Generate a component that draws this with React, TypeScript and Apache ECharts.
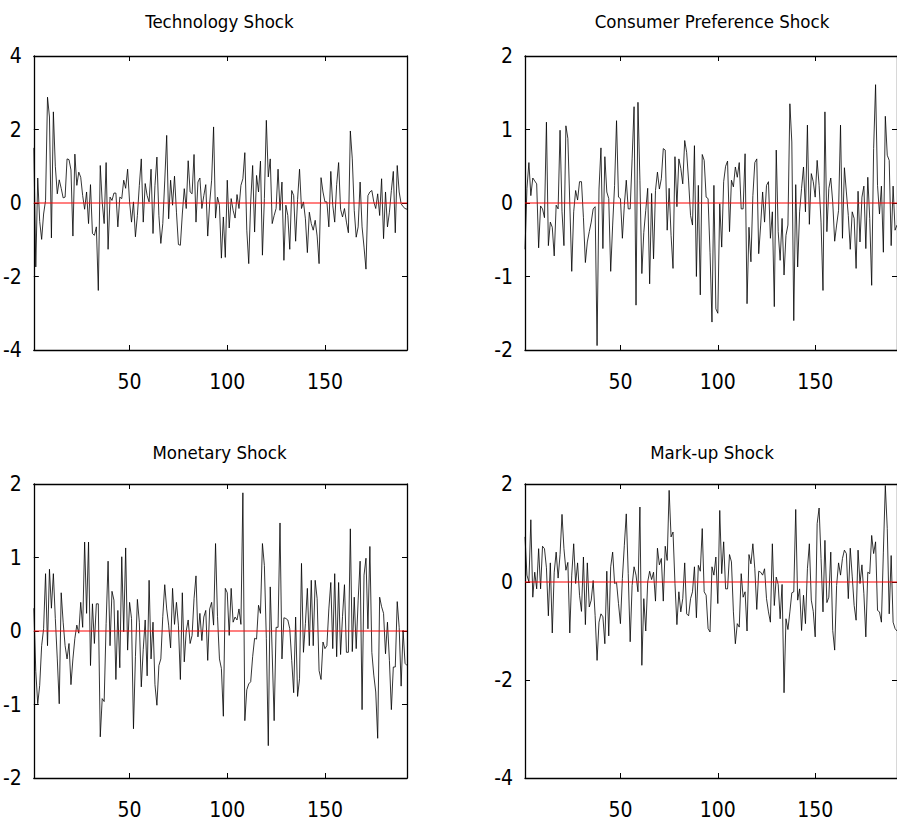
import React, { useEffect, useRef } from "react";
import * as echarts from "echarts";

const titles = ["Technology Shock", "Consumer Preference Shock", "Monetary Shock", "Mark-up Shock"];
const xTicks = [50, 100, 150];
const yMins = [-4, -2, -2, -4];
const yMaxs = [4, 2, 2, 2];
const yIntervals = [2, 1, 1, 2];
const zeroLevel = 0;

const technology = [
  1.5, -1.74, 0.68, -0.5, -0.99, -0.3, 0.07, 2.88, 2.34, -0.95,
  2.48, 1.0, 0.25, 0.63, 0.4, 0.14, 0.16, 1.2, 1.18, 0.9,
  -0.9, 1.33, 0.48, 0.84, 0.7, 0.2, -0.17, 0.3, -0.56, 0.5,
  -0.83, -0.88, -0.65, -2.38, 1.02, 0.02, -0.56, 1.1, -1.26, 0.16,
  0.07, 0.27, 0.27, -0.65, 0.16, 0.12, 0.62, 0.4, 0.92, 0.03,
  -0.52, 0.03, -0.92, -0.34, 0.48, 1.2, -0.52, 0.53, 0.2, 0.03,
  0.92, -0.83, 0.48, 1.25, -0.34, -1.1, -0.56, 0.6, 1.84, -0.43,
  0.62, -0.06, 0.73, -0.25, -1.13, -1.15, -0.3, 0.39, -0.15, 1.15,
  0.3, 0.25, 1.32, -0.52, 0.57, 0.68, -0.15, 0.2, 0.5, -0.9,
  0.0, 0.62, 2.07, -0.41, 0.16, -0.06, -1.5, -0.38, -1.48, 0.62,
  -0.68, 0.12, -0.2, -0.41, 0.23, -0.15, 0.48, 0.66, 1.37, -0.74,
  -1.65, 0.03, 1.02, -0.79, 0.75, 0.3, 1.14, -1.42, 0.12, 2.25,
  0.71, 1.2, -0.56, -0.34, -0.15, 0.92, -0.2, 0.57, -1.56, -0.06,
  -0.34, -1.26, 0.34, 0.2, -1.04, 0.1, 0.92, -0.15, 0.03, -0.43,
  -1.35, -0.25, -0.56, -0.74, -0.47, -0.9, -1.65, 0.69, 0.3, 0.03,
  0.03, -0.65, 0.86, -0.06, -0.52, 0.5, 1.1, -0.17, -0.38, -0.15,
  -0.52, -0.81, 1.96, 1.2, -0.2, -0.93, -0.65, 0.57, -0.65, -1.2,
  -1.8, 0.2, 0.3, 0.34, 0.03, -0.15, 0.25, -0.34, 0.66, -0.97,
  0.3, -0.65, -0.25, 0.34, 0.86, -0.81, 1.02, 0.3, -0.02, -0.1,
  -0.15, -0.17,
];

const consumer = [
  -0.63, 0.2, 0.55, 0.1, 0.34, 0.3, 0.26, -0.61, -0.04, -0.08,
  -0.2, 1.1, -0.58, -0.26, -0.33, -0.72, -0.03, -0.08, 0.99, -0.12,
  -0.58, 1.05, 0.88, 0.0, -0.93, -0.12, 0.17, 0.04, 0.29, 0.29,
  -0.2, -0.81, -0.53, -0.39, -0.26, -0.08, -0.05, -1.94, 0.19, 0.75,
  -0.62, 0.63, 0.15, 0.06, -0.93, -0.3, 0.24, 1.12, 0.08, 0.06,
  -0.48, -0.03, 0.31, -0.08, -0.08, 0.6, 1.31, -1.39, 1.37, 0.31,
  -0.96, -0.4, -0.1, 0.2, -1.1, 0.13, -0.76, 0.17, 0.42, 0.19,
  0.33, 0.74, 0.72, -0.37, 0.2, -0.44, -0.89, 0.63, -0.05, 0.6,
  0.47, 0.26, 0.85, 0.69, 0.3, -0.17, -0.3, 0.78, -1.0, 0.24,
  -1.25, 0.66, 0.58, 0.08, 0.06, -0.67, -1.62, 0.24, -1.44, -1.5,
  -0.01, -0.6, 0.29, 0.5, 0.57, -0.39, 0.31, 0.22, 0.49, 0.35,
  0.55, -0.08, -0.08, 0.67, -1.37, -0.33, -0.8, 0.1, 0.55, 0.6,
  -0.69, -0.3, 0.15, -0.26, 0.24, 0.29, -0.48, -0.12, -1.41, 0.72,
  -0.39, -0.78, -0.21, -0.98, -0.44, -0.3, 1.35, 0.83, -1.6, 0.25,
  -0.87, -0.12, 0.2, 0.49, -0.12, 1.06, -0.29, 0.4, 0.29, 0.08,
  0.58, 0.24, -0.26, -1.19, 1.24, -0.39, 0.2, 0.34, 0.01, -0.52,
  -0.3, -0.1, 1.06, -0.48, 0.48, 0.15, -0.17, -0.63, -0.12, -0.21,
  -0.89, 0.16, -0.53, 0.08, 0.23, -0.62, 0.35, -0.21, -1.12, 0.74,
  1.61, 0.24, -0.15, 0.23, -0.67, 1.18, 0.65, 0.58, -0.58, 0.23,
  -0.37, -0.3,
];

const monetary = [
  0.31, -0.55, -0.99, -0.74, -0.2, 0.03, 0.78, -0.2, 0.84, 0.31,
  0.78, 0.17, -0.38, -0.99, 0.52, 0.12, -0.2, -0.38, -0.17, -0.73,
  -0.38, -0.1, 0.08, -0.03, 0.39, 0.05, 1.21, 0.24, 1.21, -0.47,
  0.37, -0.17, 0.37, 0.37, -1.44, -0.92, -0.96, 0.1, 0.95, -0.2,
  0.54, 0.42, -0.66, 0.28, -0.5, 1.01, -0.01, 1.13, -0.26, 0.39,
  0.17, -1.33, -0.35, 0.43, 0.12, -0.76, -0.25, 0.15, -0.61, 0.69,
  -0.38, 0.12, -0.73, -1.01, -0.47, -0.38, 0.2, 0.63, 0.3, 0.08,
  -0.23, 0.58, 0.09, 0.39, 0.08, -0.66, 0.52, -0.42, 0.0, 0.15,
  -0.17, -0.06, 0.44, 0.75, -0.08, 0.24, -0.13, 0.19, 0.28, -0.4,
  0.3, 0.39, 0.08, 1.19, 0.2, -0.38, -0.51, -1.16, 0.58, 0.52,
  -0.06, 0.58, 0.12, 0.19, 0.15, 0.3, 0.09, 1.88, -1.22, -0.8,
  -0.72, -0.69, -0.35, -0.1, -0.11, 0.35, 0.24, 1.19, 0.89, -0.1,
  -1.56, 0.6, -0.3, -1.22, 0.05, 0.05, 1.47, -0.38, 0.18, 0.17,
  0.15, 0.03, -0.4, -0.84, 0.19, -0.89, -0.65, 0.92, -0.29, 0.1,
  0.58, -0.2, 0.69, -0.2, 0.69, 0.44, -0.54, -0.66, -0.15, -0.24,
  -0.2, 0.3, 0.66, -0.24, 0.78, -0.35, 0.66, -0.32, 0.2, 0.63,
  -0.29, -0.29, 1.39, -0.28, 0.46, -0.24, 0.42, 0.95, -1.07, 0.76,
  0.99, 0.03, 1.15, -0.29, -0.6, -0.83, -1.46, 0.46, 0.33, 0.24,
  -0.31, 0.12, -0.4, -1.07, -0.49, -0.49, 0.4, 0.05, -0.75, 0.01,
  -0.44, -0.47,
];

const markup = [
  0.92, 0.14, 0.0, 1.27, -0.31, 0.2, -0.14, 0.68, -0.14, 0.73,
  0.68, 0.29, -0.69, 0.39, -1.04, 0.2, 0.61, 0.08, 0.56, 1.38,
  0.68, 0.24, 0.4, -1.04, 0.14, 0.78, -0.03, 0.39, -0.27, -0.6,
  0.51, -0.87, 0.39, -0.51, -0.37, 0.03, -0.68, -1.6, -0.82, -0.65,
  -0.71, -1.26, 0.22, -1.1, 0.31, 0.61, -0.03, -0.01, -0.44, -0.85,
  0.07, 0.75, 1.39, 0.17, -1.22, -0.07, 0.31, 0.14, -0.2, 1.53,
  -1.7, -0.34, -1.0, 0.0, 0.22, 0.05, 0.2, -0.39, 0.69, 0.35,
  0.48, -0.39, 0.73, 0.44, 1.87, 0.92, 1.02, -0.03, -0.87, -0.2,
  -0.61, -0.34, 0.39, -0.65, -0.69, -0.34, -0.2, 0.31, -0.73, 0.34,
  0.22, 1.09, -0.2, -0.27, -0.95, -1.02, 0.31, 0.14, 0.51, -0.44,
  1.46, 0.17, 0.82, -0.14, -0.14, 0.56, 0.41, -0.61, -1.26, -0.85,
  -0.92, 0.17, -0.31, -0.2, -1.0, 0.56, 0.37, 0.78, 0.27, -0.56,
  0.22, 0.2, 0.14, 0.27, -0.34, -0.61, -0.82, 0.78, -0.48, 0.1,
  -0.05, -0.75, -0.05, -2.26, -0.75, -0.97, -0.61, -0.22, -0.2, 1.48,
  -0.37, -0.14, -0.99, -0.27, -0.85, 0.27, 0.78, -0.37, -0.6, -1.12,
  1.19, 1.51, 0.48, -0.61, 0.85, -0.42, -0.31, 0.61, -0.99, -1.39,
  -0.07, 0.39, 0.14, 0.48, 0.65, 0.58, -0.34, 0.69, 0.12, -0.48,
  -0.78, 0.65, -0.03, 0.35, -0.24, -1.12, 0.2, 0.17, 0.95, 0.58,
  0.82, -0.58, -0.61, -0.82, 0.61, 1.97, 1.09, -0.65, 0.54, -0.82,
  -0.95, -1.0,
];

const seriesValues = [technology, consumer, monetary, markup];

const FONT = '"Liberation Sans Narrow", "Arial Narrow", "DejaVu Sans Condensed", "Liberation Sans", Arial, sans-serif';
const grids = [
  { left: 32, top: 56, width: 375, height: 294 },
  { left: 525, top: 56, width: 374, height: 294 },
  { left: 32, top: 484, width: 375, height: 294 },
  { left: 525, top: 484, width: 374, height: 294 },
];
const titleTops = [12, 12, 443, 443];

function buildOption() {
  const mkAxisLine = () => ({ show: true, onZero: false, lineStyle: { color: "#000", width: 1.3 } });
  const tickStyle = { color: "#000", width: 1 };
  const labelStyle = { color: "#000", fontFamily: FONT, fontSize: 21 };
  const xAxis: any[] = [];
  const yAxis: any[] = [];
  const series: any[] = [];
  const title: any[] = [];
  grids.forEach((g, k) => {
    const n = seriesValues[k].length;
    ["bottom", "top"].forEach((pos) => {
      xAxis.push({
        type: "value",
        gridIndex: k,
        position: pos,
        min: 1,
        max: n,
        axisLine: mkAxisLine(),
        axisTick: { show: true, inside: true, length: 5, customValues: xTicks, lineStyle: tickStyle },
        axisLabel: { show: pos === "bottom", customValues: xTicks, margin: 21, ...labelStyle },
        splitLine: { show: false },
      });
    });
    ["left", "right"].forEach((pos) => {
      yAxis.push({
        type: "value",
        gridIndex: k,
        position: pos,
        min: yMins[k],
        max: yMaxs[k],
        interval: yIntervals[k],
        axisLine: mkAxisLine(),
        axisTick: { show: true, inside: true, length: 5, lineStyle: tickStyle },
        axisLabel: { show: pos === "left", margin: 12, ...labelStyle },
        splitLine: { show: false },
      });
    });
    series.push({
      type: "line",
      xAxisIndex: 2 * k,
      yAxisIndex: 2 * k,
      data: seriesValues[k].map((v, i) => [i + 1, v]),
      symbol: "none",
      showSymbol: false,
      silent: true,
      z: 2,
      lineStyle: { color: "#000", width: 0.8 },
      itemStyle: { color: "#000" },
    });
    series.push({
      type: "line",
      xAxisIndex: 2 * k,
      yAxisIndex: 2 * k,
      data: seriesValues[k].map((_, i) => [i + 1, zeroLevel]),
      symbol: "none",
      showSymbol: false,
      silent: true,
      z: 3,
      lineStyle: { color: "#ff0000", width: 1.2 },
      itemStyle: { color: "#ff0000" },
    });
    title.push({
      text: titles[k],
      left: g.left + g.width / 2,
      top: titleTops[k],
      textAlign: "center",
      padding: 0,
      textStyle: { fontSize: 18.5, fontWeight: "normal", color: "#000", fontFamily: FONT },
    });
  });
  return {
    animation: false,
    backgroundColor: "#fff",
    title,
    grid: grids.map((g) => ({ ...g, containLabel: false })),
    xAxis,
    yAxis,
    series,
  };
}

export default function App() {
  const ref = useRef<HTMLDivElement>(null);
  useEffect(() => {
    if (!ref.current) return;
    const chart = echarts.init(ref.current, undefined, { renderer: "svg" });
    chart.setOption(buildOption());
    return () => chart.dispose();
  }, []);
  return (
    <div
      ref={ref}
      style={{ position: "fixed", left: 0, top: 0, width: 897, height: 827, background: "#fff" }}
    />
  );
}
